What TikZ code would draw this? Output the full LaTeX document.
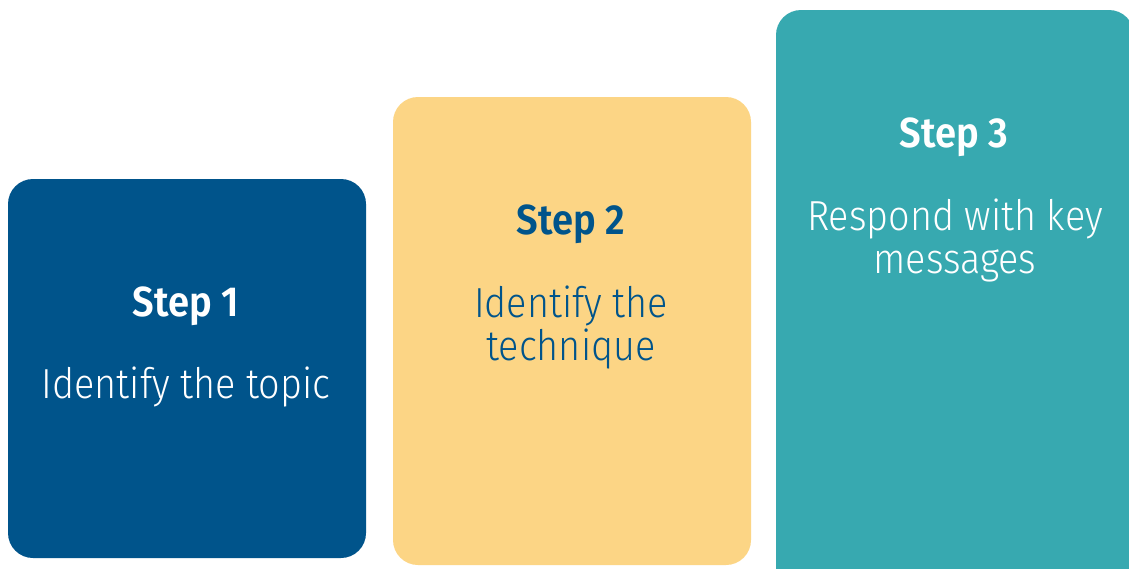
\documentclass[tikz,border=0pt]{standalone}
\usepackage{fontspec}
\setmainfont{Fira Sans}[BoldFont={Fira Sans SemiBold}, FakeStretch=0.91]
\newfontfamily\lightfont{Fira Sans Light}[FakeStretch=0.9]
\definecolor{stepblue}{HTML}{00548B}
\definecolor{stepyellow}{HTML}{FCD585}
\definecolor{stepteal}{HTML}{37A9B0}
\tikzset{
  stepbox/.style={rounded corners=25pt, inner sep=0pt, outer sep=0pt, draw=none},
  steptitle/.style={anchor=base, inner sep=0pt, font=\fontsize{42}{42}\selectfont\bfseries},
  stepbody/.style={anchor=base, inner sep=0pt, align=center, font=\fontsize{42}{43}\selectfont\lightfont},
}
\begin{document}
\begin{tikzpicture}[x=1pt,y=-1pt]
\useasboundingbox (0,0) rectangle (1129,568);
\clip (0,0) rectangle (1129,568);
\fill[white] (0,0) rectangle (1129,568);
\path[stepbox, fill=stepblue] (8,179) rectangle (366,558);
\path[stepbox, fill=stepyellow] (393,97) rectangle (751,565);
\path[stepbox, fill=stepteal] (776,10) rectangle (1134,640);
\node[steptitle, text=white] (t1) at (186,316) {Step 1};
\node[stepbody, text=white] (b1) at (186,398) {Identify the topic};
\node[steptitle, text=stepblue] (t2) at (571,234) {Step 2};
\node[stepbody, text=stepblue, anchor=north] (b2) at (571,286) {Identify the\\technique};
\node[steptitle, text=white] (t3) at (954,147) {Step 3};
\node[stepbody, text=white, anchor=north] (b3) at (955,199) {Respond with key\\messages};
\end{tikzpicture}
\end{document}
